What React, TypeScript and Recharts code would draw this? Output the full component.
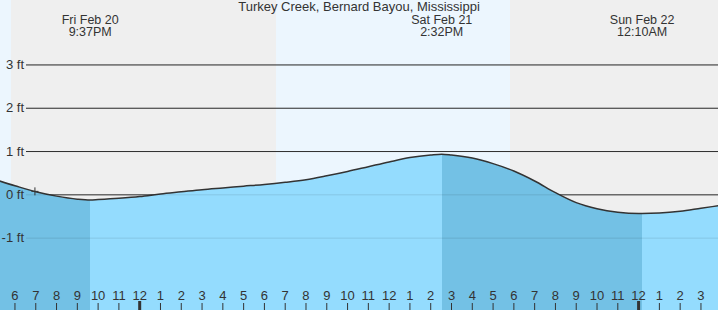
import React from 'react';
import {
    ComposedChart,
    Area,
    XAxis,
    YAxis,
    CartesianGrid,
    ReferenceLine,
    ReferenceDot
} from 'recharts';

// time is in hours since Fri Feb 20 00:00
const T_START = 17.28;
const T_END = 51.82;
const FT_MIN = -2.66;
const FT_MAX = 4.5;

const tideTimes = [17, 18, 19, 20, 21, 21.62, 22, 23, 24, 25, 26, 27, 28, 29, 30, 31, 32, 33, 34, 35, 36, 37, 38, 38.53, 39, 40, 41, 42, 43, 44, 45, 46, 47, 48, 48.17, 49, 50, 51, 52];
const tideHeights = [0.36, 0.21, 0.07, -0.03, -0.10, -0.12, -0.11, -0.08, -0.04, 0.02, 0.07, 0.12, 0.16, 0.20, 0.24, 0.29, 0.35, 0.44, 0.54, 0.65, 0.76, 0.86, 0.92, 0.94, 0.92, 0.85, 0.72, 0.55, 0.32, 0.05, -0.18, -0.32, -0.40, -0.43, -0.43, -0.42, -0.38, -0.31, -0.24];

// high / low extremes
const extremeTimes = [21.62, 38.53, 48.17];
const extremeDays = ['Fri Feb 20', 'Sat Feb 21', 'Sun Feb 22'];
const extremeClock = ['9:37PM', '2:32PM', '12:10AM'];

// daylight spans
const dayStarts = [T_START, 30.56];
const dayEnds = [17.81, 41.81];

const hourTicks = [18, 19, 20, 21, 22, 23, 24, 25, 26, 27, 28, 29, 30, 31, 32, 33, 34, 35, 36, 37, 38, 39, 40, 41, 42, 43, 44, 45, 46, 47, 48, 49, 50, 51];
const hourLabels = ['6', '7', '8', '9', '10', '11', '12', '1', '2', '3', '4', '5', '6', '7', '8', '9', '10', '11', '12', '1', '2', '3', '4', '5', '6', '7', '8', '9', '10', '11', '12', '1', '2', '3'];
const midnightTicks = [24, 48];

const ftTicks = [-1, 0, 1, 2, 3];

const nowTime = 18.96;
const nowHeight = 0.08;

const data = tideTimes.map((t, i) => ({ t, h: tideHeights[i] }));

const FALL = '#73c1e5';
const RISE = '#94dcfe';
const NIGHT = '#efefef';
const DAY = '#ecf6fe';
const INK = '#333';
const FONT = '"Liberation Sans", Arial, sans-serif';

const HourTick = (props: any) => {
    const { x, index, payload } = props;
    const midnight = midnightTicks.includes(payload.value);
    return (
        <g>
            <text x={x} y={300} textAnchor="middle" fontSize={13} fill={INK} fontFamily={FONT}>
                {hourLabels[index]}
            </text>
            <line x1={x} x2={x} y1={midnight ? 301 : 303} y2={310} stroke={INK} strokeWidth={midnight ? 3 : 1} />
        </g>
    );
};

// label plus a faint copy of the grid line, so it still shows through the water fill
const FtTick = (props: any) => (
    <g>
        <line x1={26} x2={718} y1={props.y} y2={props.y} stroke="#000" strokeOpacity={0.1} />
        <text x={24} y={props.y + 4} textAnchor="end" fontSize={13} fill={INK} fontFamily={FONT}>
            {`${props.payload.value} ft`}
        </text>
    </g>
);

const ExtremeLabel = ({ viewBox, day, clock }: any) => (
    <g>
        <text x={viewBox.x} y={23.5} textAnchor="middle" fontSize={12.5} fill={INK} fontFamily={FONT}>{day}</text>
        <text x={viewBox.x} y={36} textAnchor="middle" fontSize={12.5} fill={INK} fontFamily={FONT}>{clock}</text>
    </g>
);

const NowMark = ({ cx, cy }: any) => (
    <g stroke={INK} strokeWidth={1}>
        <line x1={cx - 3.5} x2={cx + 3.5} y1={cy} y2={cy} />
        <line x1={cx} x2={cx} y1={cy - 4} y2={cy + 4} />
    </g>
);

// day / night bands as a css background behind the chart
const bandBackground = () => {
    const pct = (t: number) => `${((t - T_START) / (T_END - T_START)) * 100}%`;
    const stops: string[] = [];
    let last = T_START;
    dayStarts.forEach((s, i) => {
        stops.push(`${NIGHT} ${pct(last)}`, `${NIGHT} ${pct(s)}`, `${DAY} ${pct(s)}`, `${DAY} ${pct(dayEnds[i])}`);
        last = dayEnds[i];
    });
    stops.push(`${NIGHT} ${pct(last)}`, `${NIGHT} 100%`);
    return `linear-gradient(to right, ${stops.join(', ')})`;
};

// grid rows only at the foot ticks
const gridRows = (args: any) => {
    const top = args?.offset?.top ?? 0;
    const h = args?.offset?.height ?? 310;
    return ftTicks.map((v) => top + ((FT_MAX - v) / (FT_MAX - FT_MIN)) * h);
};

export default function App() {
    const span = tideTimes[tideTimes.length - 1] - tideTimes[0];
    const frac = (t: number) => `${((t - tideTimes[0]) / span) * 100}%`;

    return (
        <div style={{ position: 'absolute', left: 0, top: 0, width: 718, height: 310, background: bandBackground(), fontFamily: FONT }}>
            <ComposedChart width={718} height={310} data={data} margin={{ top: 0, right: 0, bottom: -1, left: -1 }}>
                <defs>
                    <linearGradient id="tideFill" x1="0" y1="0" x2="1" y2="0">
                        <stop offset="0%" stopColor={FALL} />
                        <stop offset={frac(extremeTimes[0])} stopColor={FALL} />
                        <stop offset={frac(extremeTimes[0])} stopColor={RISE} />
                        <stop offset={frac(extremeTimes[1])} stopColor={RISE} />
                        <stop offset={frac(extremeTimes[1])} stopColor={FALL} />
                        <stop offset={frac(extremeTimes[2])} stopColor={FALL} />
                        <stop offset={frac(extremeTimes[2])} stopColor={RISE} />
                        <stop offset="100%" stopColor={RISE} />
                    </linearGradient>
                </defs>
                <CartesianGrid
                    vertical={false}
                    x={26}
                    width={692}
                    stroke={INK}
                    strokeWidth={1}
                    horizontalCoordinatesGenerator={gridRows}
                />
                <XAxis
                    type="number"
                    dataKey="t"
                    domain={[T_START, T_END]}
                    allowDataOverflow
                    ticks={hourTicks}
                    interval={0}
                    height={1}
                    axisLine={false}
                    tickLine={false}
                    tick={<HourTick />}
                />
                <YAxis
                    type="number"
                    domain={[FT_MIN, FT_MAX]}
                    allowDataOverflow
                    ticks={ftTicks}
                    interval={0}
                    width={1}
                    axisLine={false}
                    tickLine={false}
                    tick={<FtTick />}
                />
                <Area
                    type="monotone"
                    dataKey="h"
                    baseValue="dataMin"
                    stroke={INK}
                    strokeWidth={1.5}
                    fill="url(#tideFill)"
                    fillOpacity={1}
                    isAnimationActive={false}
                />
                {extremeTimes.map((t, i) => (
                    <ReferenceLine
                        key={t}
                        x={t}
                        stroke="none"
                        label={{ content: (p: any) => <ExtremeLabel {...p} day={extremeDays[i]} clock={extremeClock[i]} /> }}
                    />
                ))}
                <ReferenceDot x={nowTime} y={nowHeight} r={0} shape={<NowMark />} />
            </ComposedChart>
            <div style={{ position: 'absolute', left: 0, top: 1, width: 718, textAlign: 'center', fontSize: 13, color: INK, lineHeight: '11px' }}>
                Turkey Creek, Bernard Bayou, Mississippi
            </div>
        </div>
    );
}
